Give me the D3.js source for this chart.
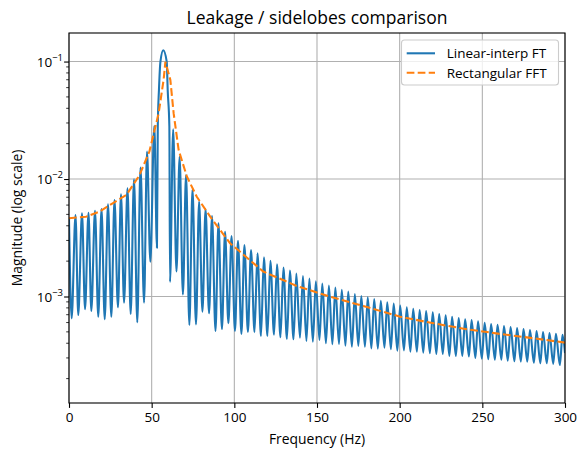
<!DOCTYPE html>
<html>
<head>
<meta charset="utf-8">
<script src="https://cdn.jsdelivr.net/npm/d3@7"></script>
<style>
  body { margin: 0; background: #fff; }
  svg { display: block; font-family: "Open Sans", "DejaVu Sans", sans-serif; }
</style>
</head>
<body>
<svg id="chart" width="586" height="457"></svg>
<script>
// Linear-interp FT: lobe peaks and nulls (Hz, magnitude)
const interpFreq = [
  0, 1.6, 3.93, 5.6, 7.86, 9.7, 11.79, 13.5, 15.73, 17.7, 19.66, 21.6, 23.59, 25.6,
  27.52, 29.6, 31.45, 33.3, 35.38, 37.3, 39.32, 41.3, 43.25, 45.4, 47.18, 49.2, 51.59, 53.2,
  53.7, 54.4, 55.3, 57.0, 59.1, 59.7, 60.7,
  61.1, 63.0, 65.0, 66.9, 68.9, 70.8, 72.8, 74.7, 76.8, 78.7, 80.7, 82.6, 84.7, 86.5,
  88.6, 90.4, 92.5, 94.4, 96.4, 98.3, 100.4, 102.2, 104.3, 106.1, 108.2, 110.1, 112.2, 114.0,
  116.1, 117.9, 120.0, 121.8, 124.0, 125.8, 127.9, 129.7, 131.8, 133.6, 135.8, 137.5, 139.7, 141.5,
  143.6, 145.4, 147.5, 149.3, 151.5, 153.2, 155.4, 157.2, 159.3, 161.1, 163.3, 165.0, 167.2, 168.9,
  171.1, 172.9, 175.0, 176.8, 179.0, 180.7, 182.9, 184.6, 186.8, 188.6, 190.8, 192.5, 194.7, 196.4,
  198.6, 200.3, 202.6, 204.3, 206.5, 208.2, 210.4, 212.1, 214.3, 216.0, 218.3, 220.0, 222.2, 223.9,
  226.1, 227.8, 230.1, 231.7, 234.0, 235.7, 237.9, 239.6, 241.9, 243.5, 245.8, 247.4, 249.7, 251.4,
  253.6, 255.3, 257.6, 259.2, 261.5, 263.1, 265.4, 267.1, 269.4, 271.0, 273.3, 274.9, 277.2, 278.8,
  281.2, 282.8, 285.1, 286.7, 289.0, 290.6, 292.9, 294.5, 296.9, 298.5, 300
];
const interpMag = [
  0.0046, 6.52e-4, 0.00494, 6.96e-4, 0.00511, 7.78e-4, 0.00516, 7.53e-4, 0.00537, 6.73e-4, 0.00556, 6.40e-4, 0.00610, 6.73e-4,
  0.00663, 8.09e-4, 0.00741, 8.86e-4, 0.00833, 7.10e-4, 0.00994, 6.03e-4, 0.0125, 8.86e-4, 0.0171, 1.98e-3, 0.0283, 2.60e-3,
  0.028, 0.057, 0.100, 0.125, 0.100, 0.057, 0.028,
  1.33e-3, 0.0265, 1.63e-3, 0.0155, 1.04e-3, 0.0108, 5.72e-4, 0.00817, 5.79e-4, 0.00641, 7.43e-4, 0.00552, 7.19e-4, 0.00484,
  5.08e-4, 0.00420, 5.28e-4, 0.00356, 5.91e-4, 0.00327, 5.08e-4, 0.00298, 4.80e-4, 0.00274, 4.99e-4, 0.00249, 4.96e-4, 0.00233,
  4.61e-4, 0.00216, 4.61e-4, 0.00201, 4.73e-4, 0.00188, 4.50e-4, 0.00176, 4.35e-4, 0.00166, 4.32e-4, 0.00157, 4.46e-4, 0.00149,
  4.18e-4, 0.00142, 4.12e-4, 0.00135, 4.26e-4, 0.00129, 4.00e-4, 0.00124, 3.92e-4, 0.00119, 3.94e-4, 0.00114, 3.81e-4, 0.00110,
  3.74e-4, 0.00105, 3.79e-4, 0.00101, 3.74e-4, 9.84e-4, 3.62e-4, 9.52e-4, 3.60e-4, 9.20e-4, 3.66e-4, 8.93e-4, 3.56e-4, 8.69e-4,
  3.46e-4, 8.36e-4, 3.48e-4, 8.11e-4, 3.39e-4, 7.87e-4, 3.39e-4, 7.67e-4, 3.33e-4, 7.53e-4, 3.29e-4, 7.34e-4, 3.24e-4, 7.10e-4,
  3.24e-4, 6.92e-4, 3.12e-4, 6.73e-4, 3.12e-4, 6.56e-4, 3.12e-4, 6.40e-4, 3.08e-4, 6.31e-4, 3.00e-4, 6.15e-4, 2.96e-4, 5.98e-4,
  2.92e-4, 5.83e-4, 2.89e-4, 5.75e-4, 2.89e-4, 5.61e-4, 2.84e-4, 5.50e-4, 2.81e-4, 5.40e-4, 2.79e-4, 5.29e-4, 2.79e-4, 5.19e-4,
  2.73e-4, 5.08e-4, 2.70e-4, 4.99e-4, 2.70e-4, 4.89e-4, 2.67e-4, 4.82e-4, 2.61e-4, 4.73e-4, 3.3e-4
];

// Rectangular FFT envelope
const fftFreq = [0, 10.3, 18.3, 26.4, 34.7, 42.5, 48.6, 54.2, 57.2, 58.3, 61.3, 63.3, 66.3, 71.3, 77.3,
  85.4, 97.4, 117.5, 137.7, 157.9, 178.0, 200.3, 220.5, 240.7, 260.8, 281.0, 300];
const fftMag = [0.00463, 0.00478, 0.00527, 0.00621, 0.00731, 0.0107, 0.0171, 0.0362, 0.0696, 0.0996, 0.0696, 0.0362, 0.0177, 0.0105, 0.00706,
  0.00478, 0.00284, 0.00163, 0.00123, 0.000996, 0.000830, 0.000673, 0.000591, 0.000526, 0.000480, 0.000441, 0.000405];

const xTicks = [0, 50, 100, 150, 200, 250, 300];
const yTicks = [1e-3, 1e-2, 1e-1];
const yTickExp = ["\u22123", "\u22122", "\u22121"];
const seriesNames = ["Linear-interp FT", "Rectangular FFT"];
const seriesColors = ["#1f77b4", "#ff7f0e"];

const mLeft = 69, mRight = 565, mTop = 33, mBottom = 403;
const svg = d3.select("#chart");

const x = d3.scaleLinear().domain([0, 300]).range([mLeft, mRight]);
const y = d3.scaleLog().domain([1.24e-4, 0.175]).range([mBottom, mTop]);

// grid
svg.append("g")
  .selectAll("line")
  .data(xTicks)
  .enter()
  .append("line")
  .attr("x1", d => x(d)).attr("x2", d => x(d))
  .attr("y1", mTop).attr("y2", mBottom)
  .attr("stroke", "#b0b0b0").attr("stroke-width", 1.1);

svg.append("g")
  .selectAll("line")
  .data(yTicks)
  .enter()
  .append("line")
  .attr("x1", mLeft).attr("x2", mRight)
  .attr("y1", d => y(d)).attr("y2", d => y(d))
  .attr("stroke", "#b0b0b0").attr("stroke-width", 1.1);

svg.append("clipPath").attr("id", "plot")
  .append("rect").attr("x", mLeft).attr("y", mTop)
  .attr("width", mRight - mLeft).attr("height", mBottom - mTop);

const interp = interpFreq.map((f, i) => [f, interpMag[i]]);
const fft = fftFreq.map((f, i) => [f, fftMag[i]]);

const line = d3.line().x(d => x(d[0])).y(d => y(d[1]));

svg.append("path")
  .datum(interp)
  .attr("clip-path", "url(#plot)")
  .attr("d", line.curve(d3.curveMonotoneX))
  .attr("fill", "none")
  .attr("stroke", seriesColors[0])
  .attr("stroke-width", 2.08)
  .attr("stroke-linejoin", "round");

svg.append("path")
  .datum(fft)
  .attr("clip-path", "url(#plot)")
  .attr("d", line.curve(d3.curveLinear))
  .attr("fill", "none")
  .attr("stroke", seriesColors[1])
  .attr("stroke-width", 2.08)
  .attr("stroke-dasharray", "7.7,3.3");

// axes
const xAxis = d3.axisBottom(x).tickValues(xTicks).tickSize(4.9).tickPadding(5);
const gx = svg.append("g")
  .attr("transform", `translate(0,${mBottom})`)
  .call(xAxis);
gx.select(".domain").remove();
gx.selectAll("line").attr("stroke", "#000").attr("stroke-width", 1.1);
gx.selectAll("text").attr("font-size", 13.5).attr("fill", "#000")
  .attr("font-family", "'Open Sans', sans-serif");

const minor = y.ticks().filter(v => yTicks.indexOf(v) < 0);
svg.append("g")
  .selectAll("line")
  .data(minor)
  .enter()
  .append("line")
  .attr("x1", mLeft - 2.8).attr("x2", mLeft)
  .attr("y1", d => y(d)).attr("y2", d => y(d))
  .attr("stroke", "#000").attr("stroke-width", 0.8);

const yAxis = d3.axisLeft(y).tickValues(yTicks).tickSize(4.9).tickFormat("");
const gy = svg.append("g")
  .attr("transform", `translate(${mLeft},0)`)
  .call(yAxis);
gy.select(".domain").remove();
gy.selectAll("line").attr("stroke", "#000").attr("stroke-width", 1.1);

const yl = svg.append("g")
  .selectAll("text")
  .data(yTicks)
  .enter()
  .append("text")
  .attr("x", 63)
  .attr("y", d => y(d) + 5)
  .attr("text-anchor", "end")
  .attr("font-size", 13.5);
yl.append("tspan").text("10");
yl.append("tspan")
  .attr("dy", -6)
  .attr("font-size", 9.5)
  .text((d, i) => yTickExp[i]);

// frame
svg.append("rect")
  .attr("x", mLeft).attr("y", mTop)
  .attr("width", mRight - mLeft).attr("height", mBottom - mTop)
  .attr("fill", "none").attr("stroke", "#000").attr("stroke-width", 1.1);

// labels
svg.append("text")
  .attr("x", (mLeft + mRight) / 2).attr("y", 24)
  .attr("text-anchor", "middle").attr("font-size", 17.5)
  .text("Leakage / sidelobes comparison");

svg.append("text")
  .attr("x", (mLeft + mRight) / 2).attr("y", 444)
  .attr("text-anchor", "middle").attr("font-size", 13.9)
  .text("Frequency (Hz)");

svg.append("text")
  .attr("transform", `translate(22,${(mTop + mBottom) / 2}) rotate(-90)`)
  .attr("text-anchor", "middle").attr("font-size", 13.9)
  .text("Magnitude (log scale)");

// legend
const lg = svg.append("g");
lg.append("rect")
  .attr("x", 401.5).attr("y", 40).attr("width", 157).attr("height", 45)
  .attr("rx", 3).attr("fill", "#fff").attr("fill-opacity", 0.8)
  .attr("stroke", "#cccccc").attr("stroke-width", 1.1);

const items = lg.selectAll("g")
  .data(seriesNames)
  .enter()
  .append("g")
  .attr("transform", (d, i) => `translate(0,${53.3 + i * 19.4})`);
items.append("line")
  .attr("x1", 406.7).attr("x2", 435)
  .attr("stroke", (d, i) => seriesColors[i])
  .attr("stroke-width", 2.08)
  .attr("stroke-dasharray", (d, i) => i === 1 ? "7.7,3.3" : null);
items.append("text")
  .attr("x", 446.7).attr("y", 5)
  .attr("font-size", 13.5)
  .text(d => d);
</script>
</body>
</html>
